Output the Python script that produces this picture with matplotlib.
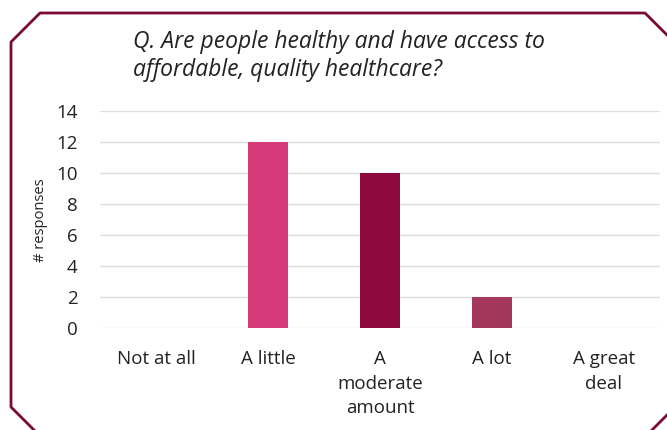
import matplotlib.pyplot as plt
from matplotlib.lines import Line2D

# survey answers and counts
categories = ['Not at all', 'A little', 'A\nmoderate\namount', 'A lot', 'A great\ndeal']
responses = [0, 12, 10, 2, 0]
bar_colors = ['#d63a78', '#d63a78', '#8c0a3c', '#a3375c', '#a3375c']
y_ticks = [0, 2, 4, 6, 8, 10, 12, 14]

plt.rcParams['font.family'] = ['Open Sans', 'DejaVu Sans']

W, H = 667, 430
fig = plt.figure(figsize=(W / 100, H / 100), dpi=100)
ax = fig.add_axes([100 / W, 1 - 328 / H, 560 / W, 217 / H])

x = range(len(categories))
ax.bar(x, responses, width=0.35, color=bar_colors, zorder=3)

ax.set_xlim(-0.5, len(categories) - 0.5)
ax.set_ylim(0, 14)
ax.set_yticks(y_ticks)
ax.set_xticks(list(x))
ax.set_xticklabels(categories, fontsize=13.5, color='#222222', linespacing=1.45, va='top')
ax.tick_params(axis='y', length=0, pad=16, labelsize=13.5, labelcolor='#222222')
ax.tick_params(axis='x', length=0, pad=16)
ax.grid(axis='y', color='#dddddd', linewidth=1, zorder=0)
for s in ax.spines.values():
    s.set_visible(False)

fig.text(40 / W, 1 - 220 / H, '# responses', rotation=90, ha='center', va='center',
         fontsize=10.5, color='#222222')

fig.text(133 / W, 1 - 56 / H, 'Q. Are people healthy and have access to\naffordable, quality healthcare?',
         ha='left', va='center', fontsize=16.5, style='italic', color='#222222', linespacing=1.2)

# cut-corner frame around the chart
frame_x = [667, 645, 40, 11, 11, 34, None, 652, 667]
frame_y = [35, 13, 13, 42, 407, 430, None, 430, 415]
segs = [[]]
for px, py in zip(frame_x, frame_y):
    if px is None:
        segs.append([])
    else:
        segs[-1].append((px / W, 1 - py / H))
for seg in segs:
    xs, ys = zip(*seg)
    fig.add_artist(Line2D(xs, ys, transform=fig.transFigure, color='#7a0a35', linewidth=2))

fig.savefig('out.png', dpi=100)
